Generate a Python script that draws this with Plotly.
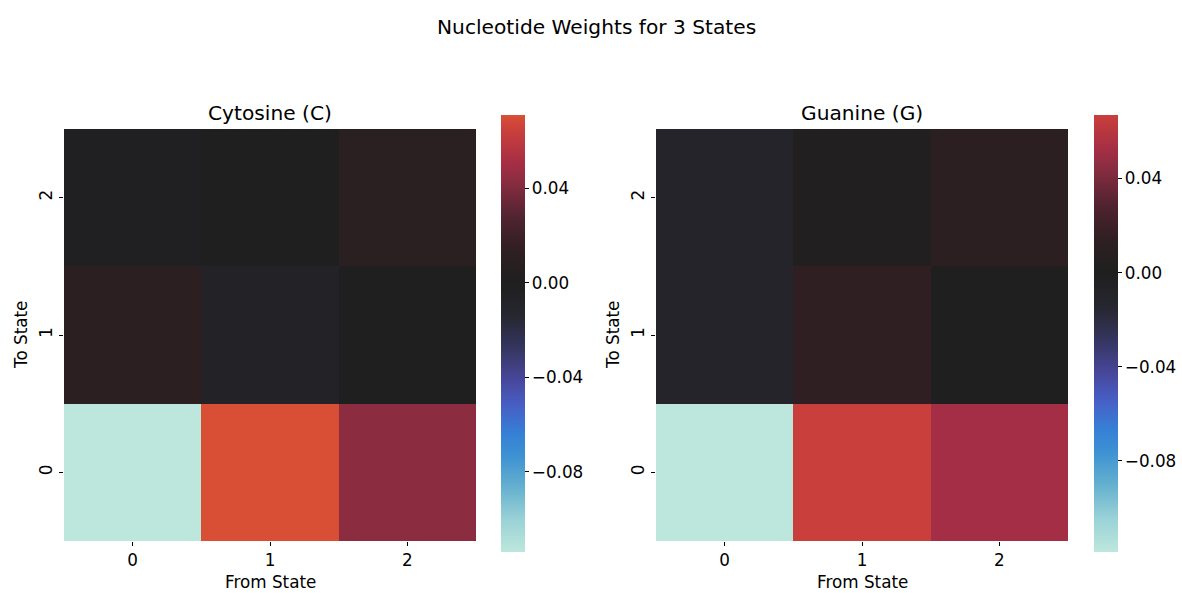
import plotly.graph_objects as go

# Transition weights: rows = "To State" (0, 1, 2), columns = "From State" (0, 1, 2)
states = [0, 1, 2]
cytosine_weights = [
    [-0.114, 0.071, 0.043],
    [0.010, -0.007, 0.000],
    [-0.002, 0.000, 0.009],
]
guanine_weights = [
    [-0.1187, 0.067, 0.052],
    [-0.010, 0.014, 0.000],
    [-0.010, 0.002, 0.011],
]
panel_titles = ["Cytosine (C)", "Guanine (G)"]
cbar_tickvals = [-0.08, -0.04, 0.0, 0.04]
cbar_ticktext = ["\u22120.08", "\u22120.04", "0.00", "0.04"]

# Diverging "icefire"-style palette, centred on zero
ICEFIRE = [
    (0.00, "#bde7dc"), (0.06, "#9ad2d7"), (0.12, "#65b0cf"), (0.18, "#3d91d3"),
    (0.22, "#3680d6"), (0.27, "#4760c6"), (0.32, "#47479b"), (0.38, "#35355f"),
    (0.44, "#26262f"), (0.50, "#1f1f1f"), (0.56, "#2f1f22"), (0.62, "#4f2330"),
    (0.69, "#8c2d42"), (0.72, "#a42e45"), (0.78, "#c83e3c"), (0.81, "#d84e36"),
    (0.86, "#ea7240"), (0.92, "#f5a266"), (1.00, "#fde5c8"),
]


def _rgb(h):
    h = h.lstrip("#")
    return tuple(int(h[i:i + 2], 16) for i in (0, 2, 4))


def _sample(p):
    for (p0, c0), (p1, c1) in zip(ICEFIRE[:-1], ICEFIRE[1:]):
        if p0 <= p <= p1:
            t = 0 if p1 == p0 else (p - p0) / (p1 - p0)
            a, b = _rgb(c0), _rgb(c1)
            return "rgb(%d,%d,%d)" % tuple(round(a[i] + (b[i] - a[i]) * t) for i in range(3))
    return "rgb(%d,%d,%d)" % _rgb(ICEFIRE[-1][1])


def centred_scale(zmin, zmax, n=64):
    """Slice the palette so that zero sits at its midpoint."""
    vr = max(abs(zmin), abs(zmax))
    lo, hi = (zmin + vr) / (2 * vr), (zmax + vr) / (2 * vr)
    return [[i / (n - 1), _sample(lo + (hi - lo) * i / (n - 1))] for i in range(n)]


W, H = 1182, 593
FONT = "DejaVu Sans"
TICK = 16.8
TITLE = 20.2

panels = [
    dict(z=cytosine_weights, x0=64, x1=476, cb=501),
    dict(z=guanine_weights, x0=656, x1=1068, cb=1094),
]
top_px, bot_px = 129, 541
cb_top, cb_bot = 115, 552

fig = go.Figure()
annotations = []
for k, p in enumerate(panels):
    flat = [v for row in p["z"] for v in row]
    zmin, zmax = min(flat), max(flat)
    xa = "x" if k == 0 else "x2"
    ya = "y" if k == 0 else "y2"
    fig.add_trace(go.Heatmap(
        z=p["z"], x=states, y=states, xaxis=xa, yaxis=ya,
        zmin=zmin, zmax=zmax, colorscale=centred_scale(zmin, zmax),
        xgap=0, ygap=0,
        colorbar=dict(
            x=p["cb"] / W, xanchor="left", xref="paper",
            y=1 - (cb_top + cb_bot) / 2 / H, yanchor="middle",
            len=cb_bot - cb_top, lenmode="pixels",
            thickness=24, thicknessmode="pixels",
            outlinewidth=0, xpad=0, ypad=0,
            tickvals=cbar_tickvals, ticktext=cbar_ticktext,
            ticks="outside", ticklen=4, tickwidth=1, tickcolor="#000",
            tickfont=dict(family=FONT, size=TICK, color="#000"),
        ),
    ))
    axis_common = dict(
        tickvals=states, ticktext=[str(s) for s in states],
        range=[-0.5, 2.5], showgrid=False, zeroline=False, showline=False,
        ticks="outside", ticklen=4, tickwidth=1, tickcolor="#000",
        tickfont=dict(family=FONT, size=TICK, color="#000"),
    )
    xkey = "xaxis" if k == 0 else "xaxis2"
    ykey = "yaxis" if k == 0 else "yaxis2"
    fig.update_layout(**{
        xkey: dict(domain=[p["x0"] / W, p["x1"] / W], anchor=ya, **axis_common),
        ykey: dict(domain=[1 - bot_px / H, 1 - top_px / H], anchor=xa,
                   tickangle=-90, **axis_common),
    })
    cx = (p["x0"] + p["x1"]) / 2 / W
    annotations.append(dict(text=panel_titles[k], x=cx, y=1 - 113 / H,
                            xref="paper", yref="paper", showarrow=False,
                            xanchor="center", yanchor="middle",
                            font=dict(family=FONT, size=TITLE, color="#000")))
    annotations.append(dict(text="From State", x=cx, y=1 - 582 / H,
                            xref="paper", yref="paper", showarrow=False,
                            xanchor="center", yanchor="middle",
                            font=dict(family=FONT, size=TICK, color="#000")))
    annotations.append(dict(text="To State", x=(p["x0"] - 43) / W, y=1 - 335 / H,
                            xref="paper", yref="paper", showarrow=False,
                            textangle=-90, xanchor="center", yanchor="middle",
                            font=dict(family=FONT, size=TICK, color="#000")))

annotations.append(dict(text="Nucleotide Weights for 3 States", x=596 / W, y=1 - 27 / H,
                        xref="paper", yref="paper", showarrow=False,
                        xanchor="center", yanchor="middle",
                        font=dict(family=FONT, size=TITLE, color="#000")))

fig.update_layout(
    width=W, height=H, margin=dict(l=0, r=0, t=0, b=0),
    paper_bgcolor="white", plot_bgcolor="white",
    annotations=annotations, showlegend=False,
    font=dict(family=FONT, color="#000"),
)

fig.write_html("out.html")
